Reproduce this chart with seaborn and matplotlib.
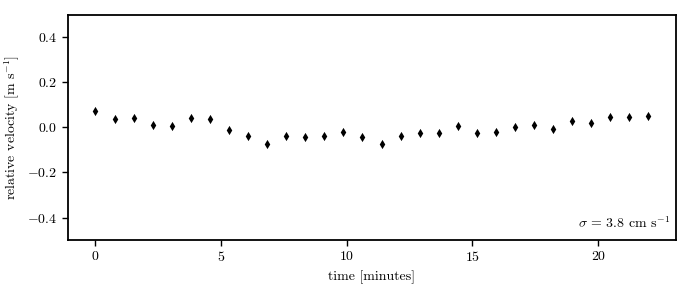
import pandas as pd
import seaborn as sns
import matplotlib.pyplot as plt

# time of each measurement [minutes] and relative velocity [m/s]
time_min = [0.0, 0.76, 1.52, 2.28, 3.03, 3.79, 4.55, 5.31, 6.07, 6.83,
            7.59, 8.34, 9.10, 9.86, 10.62, 11.38, 12.14, 12.90, 13.66, 14.41,
            15.17, 15.93, 16.69, 17.45, 18.21, 18.97, 19.72, 20.48, 21.24, 22.0]
rel_vel = [0.075, 0.038, 0.044, 0.012, 0.008, 0.041, 0.038, -0.010, -0.040, -0.072,
           -0.040, -0.043, -0.040, -0.019, -0.043, -0.075, -0.038, -0.024, -0.025, 0.008,
           -0.026, -0.022, 0.001, 0.009, -0.006, 0.027, 0.019, 0.046, 0.046, 0.049]
sigma_label = r'$\sigma$ = 3.8 cm s$^{-1}$'

df = pd.DataFrame({'time': time_min, 'vel': rel_vel})

sns.set_style('ticks')
plt.rcParams['font.family'] = 'cmr10'
plt.rcParams['mathtext.fontset'] = 'cm'
plt.rcParams['axes.formatter.use_mathtext'] = True
plt.rcParams['font.size'] = 10
plt.rcParams['text.color'] = 'black'
plt.rcParams['axes.labelcolor'] = 'black'
plt.rcParams['xtick.color'] = 'black'
plt.rcParams['ytick.color'] = 'black'

fig = plt.figure(figsize=(6.92, 2.92), dpi=100)
ax = fig.add_axes([0.098, 0.178, 0.879, 0.771])

sns.scatterplot(x='time', y='vel', data=df, marker='d', s=22, color='black',
                linewidth=0, ax=ax)

ax.set_ylim(-0.5, 0.5)
ax.set_xlim(-1.1, 23.1)
ax.set_yticks([-0.4, -0.2, 0.0, 0.2, 0.4])
ax.set_xticks([0, 5, 10, 15, 20])
ax.set_xlabel('time [minutes]')
ax.set_ylabel('relative velocity [m s$^{-1}$]')
ax.text(0.99, 0.04, sigma_label, transform=ax.transAxes, ha='right', va='bottom')

for sp in ax.spines.values():
    sp.set_visible(True)
    sp.set_linewidth(1.3)
    sp.set_color('black')
ax.tick_params(color='black', length=4, width=1)

plt.savefig('out.png', dpi=100)
